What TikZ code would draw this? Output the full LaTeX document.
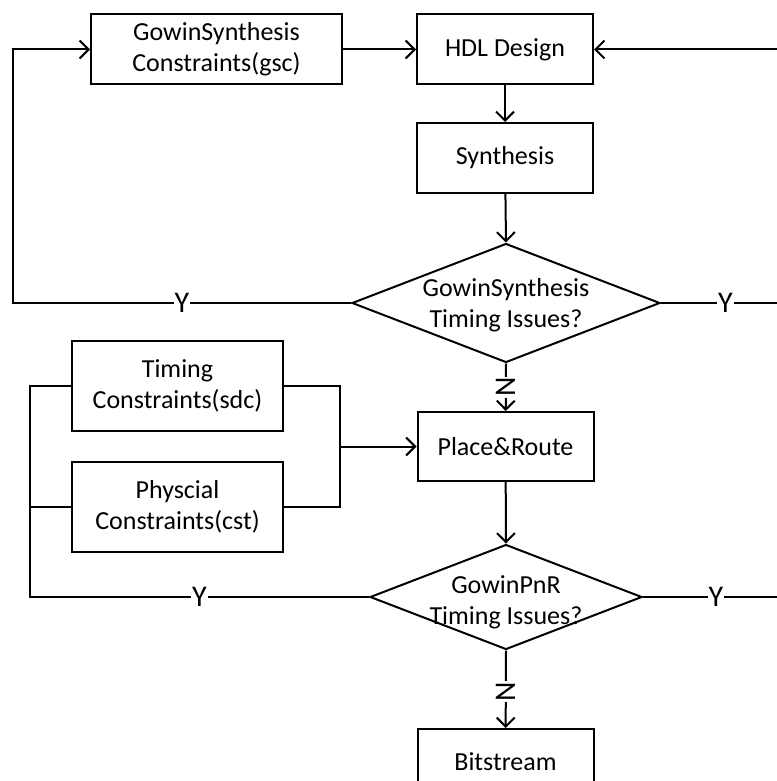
\documentclass[tikz,border=0pt]{standalone}
\usepackage{fontspec}
\setmainfont{Carlito}
\usetikzlibrary{shapes.geometric,arrows.meta}

\begin{document}
\begin{tikzpicture}[x=1pt,y=-1pt,line width=2pt,
  txt/.style={font=\fontsize{26}{31}\selectfont,align=center},
  box/.style={draw,txt,inner sep=0pt,minimum width=176pt,minimum height=70pt},
  wide/.style={box,minimum width=211pt,minimum height=90pt},
  decide/.style={draw,diamond,inner sep=0pt},
  arr/.style={-{Straight Barb[length=9pt,width=18pt]}},
  yes/.style={font=\fontsize{30}{30}\selectfont,fill=white,inner sep=1pt},
  no/.style={yes,rotate=90}]
\path[use as bounding box,fill=white] (0,0) rectangle (776,781);
\node[box,minimum width=251pt] (gsc) at (216.5,49.5) {GowinSynthesis\\Constraints(gsc)};
\node[box] (hdl) at (505,49.5) {HDL Design};
\node[box] (syn) at (505,158) {Synthesis};
\node[decide,minimum width=308pt,minimum height=119pt] (dia1) at (506,303) {};
\node[txt] at ([yshift=-2pt]dia1.center) {GowinSynthesis\\Timing Issues?};
\node[box,minimum height=69pt] (pnr) at (505.5,446.5) {Place\&Route};
\node[wide] (tim) at (177.5,386) {Timing\\Constraints(sdc)};
\node[wide] (phy) at (177.5,507) {Physcial\\Constraints(cst)};
\node[decide,minimum width=272pt,minimum height=105pt] (dia2) at (506,597) {};
\node[txt] at ([yshift=-5pt]dia2.center) {GowinPnR\\Timing Issues?};
\node[box,minimum height=66pt] (bit) at (505.5,762) {Bitstream};
\coordinate (l1) at (13,303);
\coordinate (r1) at (778,303);
\coordinate (l2) at (30,597);
\coordinate (l3) at (30,507);
\coordinate (r2) at (778,597);
\coordinate (m) at (340,446.5);
\draw[arr] (gsc) -- (hdl);
\draw[arr] (hdl) -- (syn);
\draw[arr] (syn) -- (dia1.north);
\draw[arr] (dia1.south) -- node[no]{N} (pnr);
\draw[arr] (pnr) -- (dia2.north);
\draw[arr] (dia2.south) -- node[no,pos=0.53]{N} (bit);
\draw[arr] (dia1.west) -- node[yes]{Y} (l1) |- (gsc.west);
\draw[arr] (dia1.east) -- node[yes,pos=0.55]{Y} (r1) |- (hdl.east);
\draw (dia2.east) -- node[yes,pos=0.54]{Y} (r2) -- (r1);
\draw (dia2.west) -- node[yes]{Y} (l2) |- (tim.west);
\draw (l3) -- (phy.west);
\draw (tim.east) -| (m);
\draw (phy.east) -| (m);
\draw[arr] (m) -- (pnr);
\end{tikzpicture}
\end{document}
